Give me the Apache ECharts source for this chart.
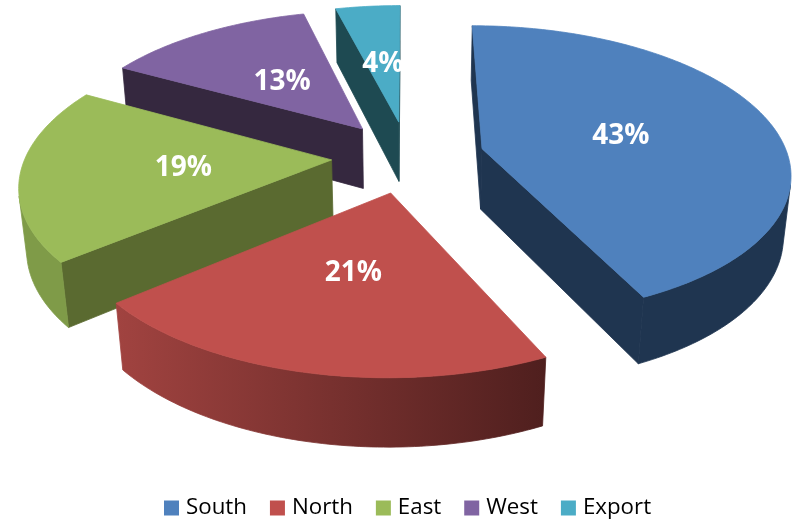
<!DOCTYPE html>
<html>
<head>
<meta charset="utf-8">
<style>html,body{margin:0;padding:0;background:#fff}#chart{width:792px;height:521px}</style>
<script src="https://cdn.jsdelivr.net/npm/echarts@6/dist/echarts.min.js"></script>
</head>
<body>
<div id="chart"></div>
<script>
// Regional share of sales, drawn as an exploded perspective pie.
const regions = ['South', 'North', 'East', 'West', 'Export'];
const shares = [43, 21, 19, 13, 4];
const topColors = ['#4F81BD', '#C0504D', '#9BBB59', '#8064A2', '#4BACC6'];
const cutColors = ['#1F3550', '#4F1F1E', '#5A6A30', '#35283F', '#1E4A52'];
const wallLeft = ['#1F3550', '#A14340', '#7F9B48', '#35283F', '#1E4A52'];
const wallRight = ['#1F3550', '#4F1F1E', '#7F9B48', '#35283F', '#1E4A52'];
const paintOrder = ['Export', 'West', 'East', 'South', 'North'];

// Camera and pie geometry (pixels, except the unit-radius disc terms).
const view = { cx: 408, cy: 156.5, sx: 306, sy: 144, persp: 0.153, drop: 62, recede: 0.02, explode: 0.25, labelAt: 0.48, labelDrop: 1.5 };

const total = shares.reduce((a, b) => a + b, 0);
const starts = shares.map((_, i) => shares.slice(0, i).reduce((a, b) => a + b, 0) / total * Math.PI * 2);

function project(x, y, z) {
  const w = 1 - view.persp * y + view.recede * z;
  return [view.cx + x * view.sx / w, view.cy + (y * view.sy + view.drop * z) / w];
}
function polar(i, angle, r, z) {
  const mid = starts[i] + shares[i] / total * Math.PI;
  const x = Math.sin(mid) * view.explode + Math.sin(angle) * r;
  const y = -Math.cos(mid) * view.explode - Math.cos(angle) * r;
  return project(x, y, z);
}
function area(p) {
  let s = 0;
  p.forEach((a, j) => { const b = p[(j + 1) % p.length]; s += a[0] * b[1] - b[0] * a[1]; });
  return s;
}
function poly(points, fill) {
  return { type: 'polygon', shape: { points }, style: { fill, stroke: fill, lineWidth: 0.8 } };
}

function renderSlice(i) {
  const a0 = starts[i];
  const a1 = a0 + shares[i] / total * Math.PI * 2;
  const steps = Math.max(8, Math.round((a1 - a0) * 60));
  const children = [];

  // Radial cut faces, kept only when they turn toward the camera.
  const cut = a => [polar(i, a, 0, 0), polar(i, a, 1, 0), polar(i, a, 1, 1), polar(i, a, 0, 1)];
  if (area(cut(a0)) < 0) children.push(poly(cut(a0), cutColors[i]));
  if (area(cut(a1)) > 0) children.push(poly(cut(a1), cutColors[i]));

  // Curved outer wall: the camera-facing stretch of the rim, shaded left to right.
  const upper = [], lower = [];
  for (let s = 0; s < steps; s++) {
    const p = a0 + (a1 - a0) * s / steps;
    const q = a0 + (a1 - a0) * (s + 1) / steps;
    const facet = [polar(i, p, 1, 0), polar(i, q, 1, 0), polar(i, q, 1, 1), polar(i, p, 1, 1)];
    if (area(facet) < 0) {
      if (!upper.length) { upper.push(facet[0]); lower.push(facet[3]); }
      upper.push(facet[1]);
      lower.push(facet[2]);
    }
  }
  if (upper.length) {
    children.push(poly(upper.concat(lower.reverse()), {
      type: 'linear', x: 0, y: 0, x2: 1, y2: 0,
      colorStops: [{ offset: 0, color: wallLeft[i] }, { offset: 1, color: wallRight[i] }]
    }));
  }

  // Top face.
  const top = [polar(i, a0, 0, 0)];
  for (let s = 0; s <= steps; s++) top.push(polar(i, a0 + (a1 - a0) * s / steps, 1, 0));
  children.push(poly(top, topColors[i]));

  // Percentage label.
  const at = polar(i, (a0 + a1) / 2, view.labelAt, 0);
  children.push({
    type: 'text', z2: 10,
    style: { x: at[0], y: at[1] + view.labelDrop, text: shares[i] + '%', fill: '#fff', align: 'center', verticalAlign: 'middle',
             font: 'bold 28px "Open Sans", sans-serif' }
  });
  return { type: 'group', children };
}

const series = paintOrder.map((name, order) => {
  const i = regions.indexOf(name);
  return {
    name, type: 'custom', coordinateSystem: 'none', z: 2 + order, silent: true, animation: false,
    itemStyle: { color: topColors[i] },
    data: [shares[i]],
    renderItem: () => renderSlice(i)
  };
});

const chart = echarts.init(document.getElementById('chart'), null, { renderer: 'canvas' });
chart.setOption({
  backgroundColor: '#fff',
  animation: false,
  legend: {
    data: regions, top: 492, left: 159, icon: 'rect', itemWidth: 15, itemHeight: 15, itemGap: 23,
    textStyle: { color: '#000', fontSize: 22.3, fontFamily: '"Open Sans", sans-serif', padding: [0, 0, 0, 2] }
  },
  series
});
</script>
</body>
</html>
